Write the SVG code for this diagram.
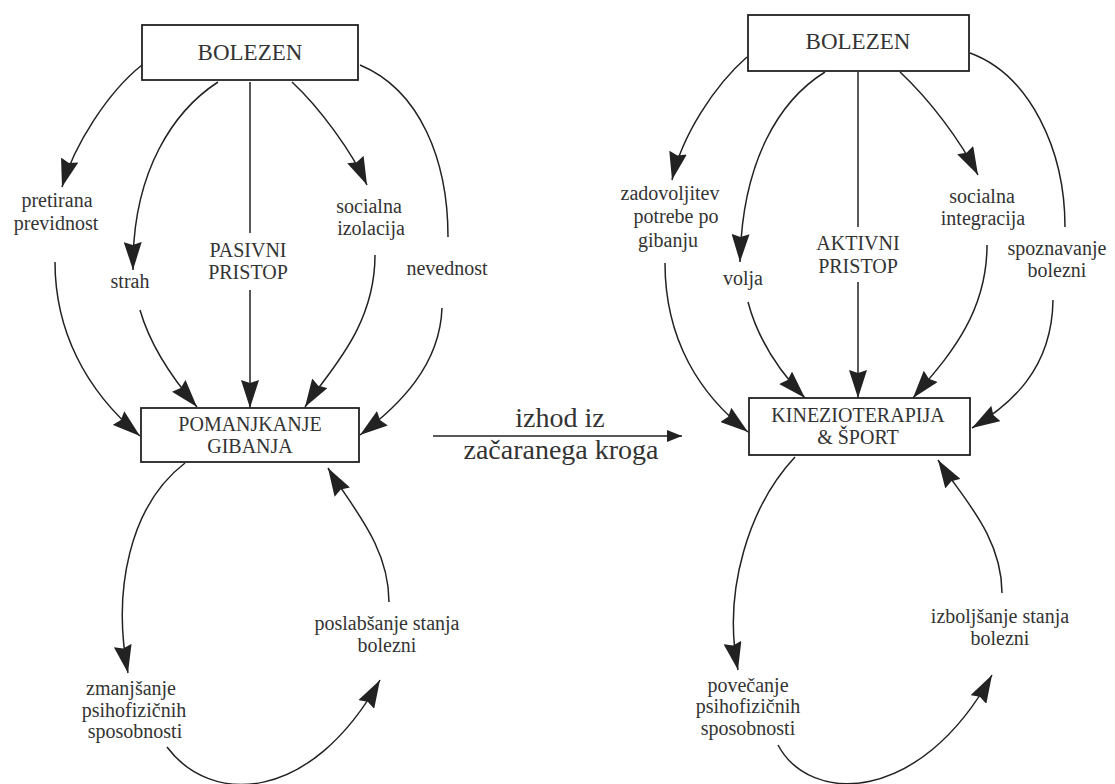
<svg xmlns="http://www.w3.org/2000/svg" width="1115" height="784" viewBox="0 0 1115 784">
<defs>
<marker id="ah" markerUnits="userSpaceOnUse" markerWidth="30" markerHeight="18" refX="28" refY="9" orient="auto"><path d="M0,0 L28,9 L0,18 L3,9 z" fill="#222"/></marker>
<marker id="ahs" markerUnits="userSpaceOnUse" markerWidth="16" markerHeight="12" refX="15" refY="6" orient="auto"><path d="M0,0 L15,6 L0,12 z" fill="#222"/></marker>
</defs>
<style>
.box{fill:#fff;stroke:#222;stroke-width:1.8}
.c{fill:none;stroke:#222;stroke-width:1.5}
.a{marker-end:url(#ah)}
text{font-family:'Liberation Serif','Times New Roman',serif;fill:#333;text-anchor:middle}
.t{font-size:20px}
.h{font-size:23px}
.m{font-size:28px}
</style>
<rect width="1115" height="784" fill="#fff"/>
<g id="connectors">
<path class="c a" d="M142,65 C108,92 74,145 62,187"/>
<path class="c a" d="M55,262 C55,330 85,390 140,436"/>
<path class="c a" d="M218,82 C175,110 132,170 133,270"/>
<path class="c a" d="M140,310 C150,345 172,378 197,407"/>
<path class="c" d="M250,82 L250,233"/>
<path class="c a" d="M250,290 L250,408"/>
<path class="c a" d="M292,82 C320,108 352,152 367,185"/>
<path class="c a" d="M375,255 C375,330 325,375 305,407"/>
<path class="c" d="M360,65 C420,90 448,160 448,237"/>
<path class="c a" d="M442,308 C440,365 400,405 360,435"/>
<path class="c a" d="M185,463 C130,505 112,590 128,673"/>
<path class="c a" d="M167,747 C210,805 310,805 380,680"/>
<path class="c a" d="M389,602 C389,545 350,505 328,468"/>
<path class="c" d="M433,436 L682,436" marker-end="url(#ahs)"/>
<path class="c a" d="M747,57 C715,85 682,135 672,180"/>
<path class="c a" d="M665,263 C665,340 700,395 748,432"/>
<path class="c a" d="M825,72 C780,100 742,160 740,262"/>
<path class="c a" d="M748,302 C758,340 778,370 805,398"/>
<path class="c" d="M858,72 L858,227"/>
<path class="c a" d="M858,282 L858,398"/>
<path class="c a" d="M900,72 C930,100 960,140 978,175"/>
<path class="c a" d="M987,245 C987,320 940,365 913,398"/>
<path class="c" d="M970,53 C1030,75 1065,150 1065,227"/>
<path class="c a" d="M1053,300 C1052,370 1010,405 972,428"/>
<path class="c a" d="M795,457 C750,505 722,590 738,670"/>
<path class="c a" d="M778,745 C810,805 920,805 992,675"/>
<path class="c a" d="M1002,593 C1002,535 960,495 938,460"/>
</g>
<g font-family="Liberation Serif, Times New Roman, serif">
<g id="bolezen-left"><rect class="box" x="142" y="25" width="216" height="55"/><text class="h" x="250" y="60">BOLEZEN</text></g>
<g id="pomanjkanje"><rect class="box" x="141" y="408" width="218" height="54"/><text class="t" x="250" y="431">POMANJKANJE</text><text class="t" x="250" y="453">GIBANJA</text></g>
<g id="bolezen-right"><rect class="box" x="748" y="15" width="221" height="56"/><text class="h" x="858" y="49">BOLEZEN</text></g>
<g id="kinezio"><rect class="box" x="749" y="398" width="221" height="57"/><text class="t" x="858" y="422">KINEZIOTERAPIJA</text><text class="t" x="858" y="444">&amp; ŠPORT</text></g>
<g id="labels">
<text class="t" x="57" y="207">pretirana</text><text class="t" x="56" y="230">previdnost</text>
<text class="t" x="130" y="288">strah</text>
<text class="t" x="248" y="257">PASIVNI</text><text class="t" x="248" y="279">PRISTOP</text>
<text class="t" x="369" y="213">socialna</text><text class="t" x="371" y="235">izolacija</text>
<text class="t" x="447" y="275">nevednost</text>
<text class="t" x="131" y="695">zmanjšanje</text><text class="t" x="134" y="717">psihofizičnih</text><text class="t" x="135" y="738">sposobnosti</text>
<text class="t" x="387" y="630">poslabšanje stanja</text><text class="t" x="387" y="652">bolezni</text>
<text class="m" x="560" y="427">izhod iz</text><text class="m" x="561" y="459">začaranega kroga</text>
<text class="t" x="670" y="200">zadovoljitev</text><text class="t" x="676" y="223">potrebe po</text><text class="t" x="668" y="247">gibanju</text>
<text class="t" x="743" y="285">volja</text>
<text class="t" x="858" y="250">AKTIVNI</text><text class="t" x="858" y="273">PRISTOP</text>
<text class="t" x="982" y="203">socialna</text><text class="t" x="983" y="225">integracija</text>
<text class="t" x="1057" y="255">spoznavanje</text><text class="t" x="1057" y="277">bolezni</text>
<text class="t" x="748" y="692">povečanje</text><text class="t" x="748" y="713">psihofizičnih</text><text class="t" x="748" y="735">sposobnosti</text>
<text class="t" x="1000" y="623">izboljšanje stanja</text><text class="t" x="1000" y="645">bolezni</text>
</g>
</g>
</svg>
